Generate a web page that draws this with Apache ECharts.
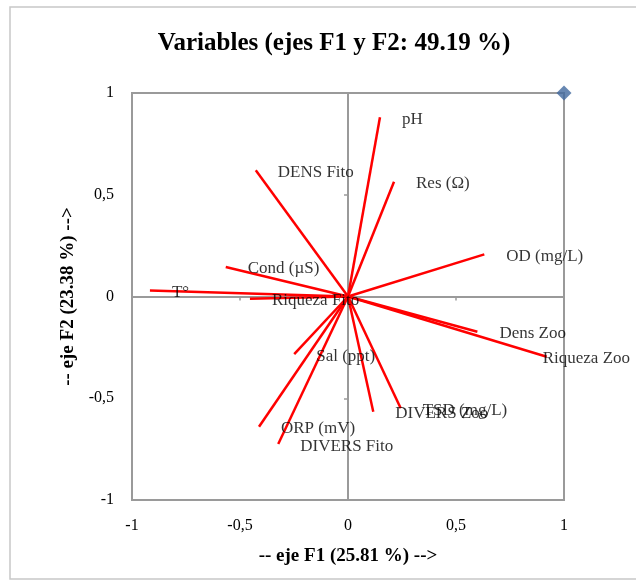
<!DOCTYPE html>
<html>
<head>
<meta charset="utf-8">
<script src="https://cdn.jsdelivr.net/npm/echarts@6/dist/echarts.min.js"></script>
<style>
html,body{margin:0;padding:0;background:#fff;}
#chart{width:636px;height:582px;}
</style>
</head>
<body>
<div id="chart"></div>
<script>
var varNames = ['pH','Res (Ω)','DENS Fito','OD (mg/L)','Cond (µS)','T°','Riqueza Fito','Dens Zoo','Riqueza Zoo','Sal (ppt)','TSD (mg/L)','DIVERS Zoo','ORP (mV)','DIVERS Fito'];
var f1 = [0.148, 0.213, -0.427, 0.631, -0.566, -0.917, -0.454, 0.599, 0.920, -0.249, 0.244, 0.117, -0.412, -0.323];
var f2 = [0.881, 0.564, 0.620, 0.207, 0.145, 0.029, -0.011, -0.173, -0.296, -0.283, -0.549, -0.566, -0.640, -0.725];
var xTicks = [-1, -0.5, 0, 0.5, 1];
var yTicks = [-1, -0.5, 0, 0.5, 1];
var corner = [[1, 1]];

var serif = '"Liberation Serif", "DejaVu Serif", serif';
function fmt(v){ return String(v).replace('.', ','); }

var lineData = varNames.map(function(n,i){ return {coords: [[0,0],[f1[i], f2[i]]]}; });
var labelData = varNames.map(function(n,i){
  var item = {name: n, value: [f1[i], f2[i]]};
  if (n === 'Riqueza Zoo') { item.label = {offset: [-4, 2]}; }
  return item;
});

var chart = echarts.init(document.getElementById('chart'));
chart.setOption({
  animation: false,
  backgroundColor: '#fff',
  graphic: [{
    type: 'rect', shape: {x: 10, y: 7, width: 700, height: 572},
    style: {fill: 'none', stroke: '#c8c8c8', lineWidth: 1.5}, silent: true, z: -10
  }],
  title: {
    text: 'Variables (ejes F1 y F2: 49.19 %)',
    left: 329, top: 26, textAlign: 'center',
    textStyle: {fontFamily: serif, fontSize: 25, fontWeight: 'bold', color: '#000'}
  },
  grid: {left: 132, top: 93, width: 432, height: 407, show: true, borderColor: '#9a9a9a', borderWidth: 2, backgroundColor: 'transparent'},
  xAxis: [{
    type: 'value', min: -1, max: 1, interval: 0.5,
    position: 'bottom',
    axisLine: {show: false, onZero: false},
    axisTick: {show: false},
    splitLine: {show: false},
    axisLabel: {fontFamily: serif, fontSize: 16, color: '#000', margin: 18, formatter: fmt},
    name: '-- eje F1 (25.81 %) -->', nameLocation: 'middle', nameGap: 47,
    nameTextStyle: {fontFamily: serif, fontSize: 19, fontWeight: 'bold', color: '#000'}
  }, {
    type: 'value', min: -1, max: 1, interval: 0.5,
    position: 'bottom',
    axisLine: {show: true, onZero: true, onZeroAxisIndex: 1, lineStyle: {color: '#9a9a9a', width: 2}},
    axisTick: {show: true, inside: false, length: 4, lineStyle: {color: '#9a9a9a', width: 1.5}},
    axisLabel: {show: false},
    splitLine: {show: false}
  }],
  yAxis: [{
    type: 'value', min: -1, max: 1, interval: 0.5,
    position: 'left',
    axisLine: {show: false, onZero: false},
    axisTick: {show: false},
    splitLine: {show: false},
    axisLabel: {fontFamily: serif, fontSize: 16, color: '#000', margin: 18, formatter: fmt},
    name: '-- eje F2 (23.38 %) -->', nameLocation: 'middle', nameGap: 53,
    nameTextStyle: {fontFamily: serif, fontSize: 19, fontWeight: 'bold', color: '#000'}
  }, {
    type: 'value', min: -1, max: 1, interval: 0.5,
    position: 'left',
    axisLine: {show: true, onZero: true, onZeroAxisIndex: 1, lineStyle: {color: '#9a9a9a', width: 2}},
    axisTick: {show: true, inside: false, length: 4, lineStyle: {color: '#9a9a9a', width: 1.5}},
    axisLabel: {show: false},
    splitLine: {show: false}
  }],
  series: [{
    type: 'lines', coordinateSystem: 'cartesian2d', xAxisIndex: 0, yAxisIndex: 0,
    data: lineData, polyline: false,
    lineStyle: {color: '#ff0000', width: 2.5, opacity: 1},
    z: 5
  }, {
    type: 'scatter', xAxisIndex: 0, yAxisIndex: 0,
    data: labelData, symbolSize: 0,
    label: {show: true, position: 'right', distance: 0, offset: [22, 2], formatter: '{b}',
      fontFamily: serif, fontSize: 17, color: '#000'},
    z: 6
  }, {
    type: 'scatter', xAxisIndex: 0, yAxisIndex: 0,
    data: corner, symbol: 'diamond', symbolSize: 15,
    itemStyle: {color: '#41699f'},
    z: 7
  }]
});
</script>
</body>
</html>
